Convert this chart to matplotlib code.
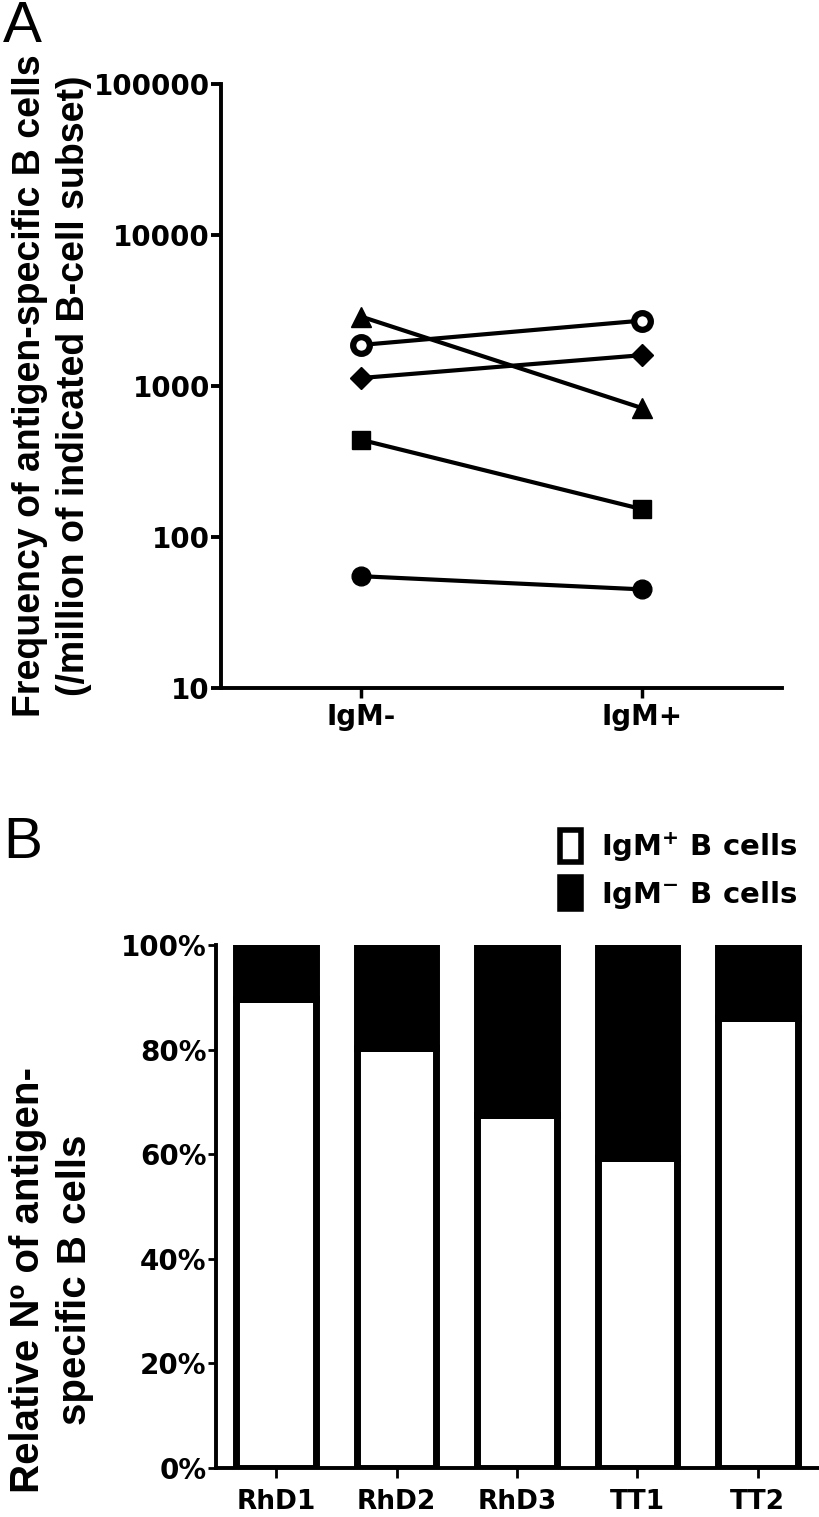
import matplotlib
matplotlib.use("Agg")
import matplotlib.pyplot as plt
from matplotlib.patches import Patch

plt.rcParams['font.family'] = ['DejaVu Sans']
plt.rcParams['font.weight'] = 'bold'
plt.rcParams['mathtext.fontset'] = 'dejavusans'
plt.rcParams['mathtext.default'] = 'bf'

# panel A: frequency per donor, IgM- vs IgM+
groups = ['IgM-', 'IgM+']
triangle = [2880, 715]
open_circle = [1870, 2710]
diamond = [1130, 1600]
square = [440, 153]
circle = [55, 45]
yticks_a = [10, 100, 1000, 10000, 100000]

# panel B: relative numbers (%)
samples = ['RhD1', 'RhD2', 'RhD3', 'TT1', 'TT2']
igm_pos = [89.7, 80.4, 67.4, 59.3, 86.1]
igm_neg = [100 - v for v in igm_pos]
yticks_b = [0, 20, 40, 60, 80, 100]
ytick_labels_b = ['0%', '20%', '40%', '60%', '80%', '100%']

W, H = 819, 1517
fig = plt.figure(figsize=(W / 100, H / 100), dpi=100)

axA = fig.add_axes([221 / W, 1 - 688 / H, (782 - 221) / W, (688 - 84) / H])
axB = fig.add_axes([216 / W, 1 - 1468 / H, (818 - 216) / W, (1468 - 945) / H])

# ---- panel A
x = list(range(len(groups)))
lw = 3
axA.plot(x, triangle, color='black', lw=lw, marker='^', ms=14)
axA.plot(x, open_circle, color='black', lw=lw, marker='o', ms=12,
         mfc='white', mec='black', mew=4.5)
axA.plot(x, diamond, color='black', lw=lw, marker='D', ms=11.5)
axA.plot(x, square, color='black', lw=lw, marker='s', ms=13)
axA.plot(x, circle, color='black', lw=lw, marker='o', ms=13.5)

axA.set_yscale('log')
axA.set_ylim(10, 100000)
axA.set_xlim(-0.5, 1.5)
axA.set_yticks(yticks_a)
axA.set_yticklabels([str(v) for v in yticks_a])
axA.minorticks_off()
axA.set_xticks(x)
axA.set_xticklabels(groups)
for s in ['top', 'right']:
    axA.spines[s].set_visible(False)
for s in ['left', 'bottom']:
    axA.spines[s].set_linewidth(2.8)
axA.tick_params(axis='y', length=7, width=2.8, labelsize=20, pad=1)
axA.tick_params(axis='x', length=7, width=2.5, labelsize=20, pad=4)

# ---- panel B
xb = list(range(len(samples)))
axB.bar(xb, igm_pos, width=0.66, color='white', edgecolor='black', lw=5, zorder=2)
axB.bar(xb, igm_neg, bottom=igm_pos, width=0.66, color='black',
        edgecolor='black', lw=5, zorder=2)
axB.set_ylim(0, 100)
axB.set_xlim(-0.5, 4.5)
axB.set_yticks(yticks_b)
axB.set_yticklabels(ytick_labels_b)
axB.set_xticks(xb)
axB.set_xticklabels(samples)
for s in ['top', 'right']:
    axB.spines[s].set_visible(False)
for s in ['left', 'bottom']:
    axB.spines[s].set_linewidth(2.8)
    axB.spines[s].set_zorder(3)
axB.tick_params(axis='y', length=6, width=2, labelsize=20, pad=1)
axB.tick_params(axis='x', length=7, width=2, labelsize=19, pad=8)

handles = [Patch(facecolor='white', edgecolor='black', lw=4),
           Patch(facecolor='black', edgecolor='black', lw=4)]
fig.legend(handles, ['IgM$^{+}$ B cells', 'IgM$^{-}$ B cells'],
           loc='upper left', bbox_to_anchor=(560 / W, 1 - 830 / H),
           frameon=False, borderpad=0, borderaxespad=0,
           handlelength=0.72, handleheight=1.3, handletextpad=0.7,
           labelspacing=0.45, prop=dict(family='DejaVu Sans', weight='bold', size=21))

# axis titles and panel letters
fig.text(52 / W, 1 - 386 / H,
         'Frequency of antigen-specific B cells\n(/million of indicated B-cell subset)',
         rotation=90, ha='center', va='center', ma='center', linespacing=1.3,
         family='Liberation Sans', weight='bold', size=27)
fig.text(52 / W, 1 - 1280 / H,
         'Relative N\u00ba of antigen-\nspecific B cells',
         rotation=90, ha='center', va='center', ma='center', linespacing=1.3,
         family='Liberation Sans', weight='bold', size=29)
fig.text(3 / W, 1 - 0 / H, 'A', family='Liberation Sans', weight='normal',
         size=42, va='top', ha='left')
fig.text(3 / W, 1 - 816 / H, 'B', family='Liberation Sans', weight='normal',
         size=42, va='top', ha='left')

fig.savefig('out.png', dpi=100)
